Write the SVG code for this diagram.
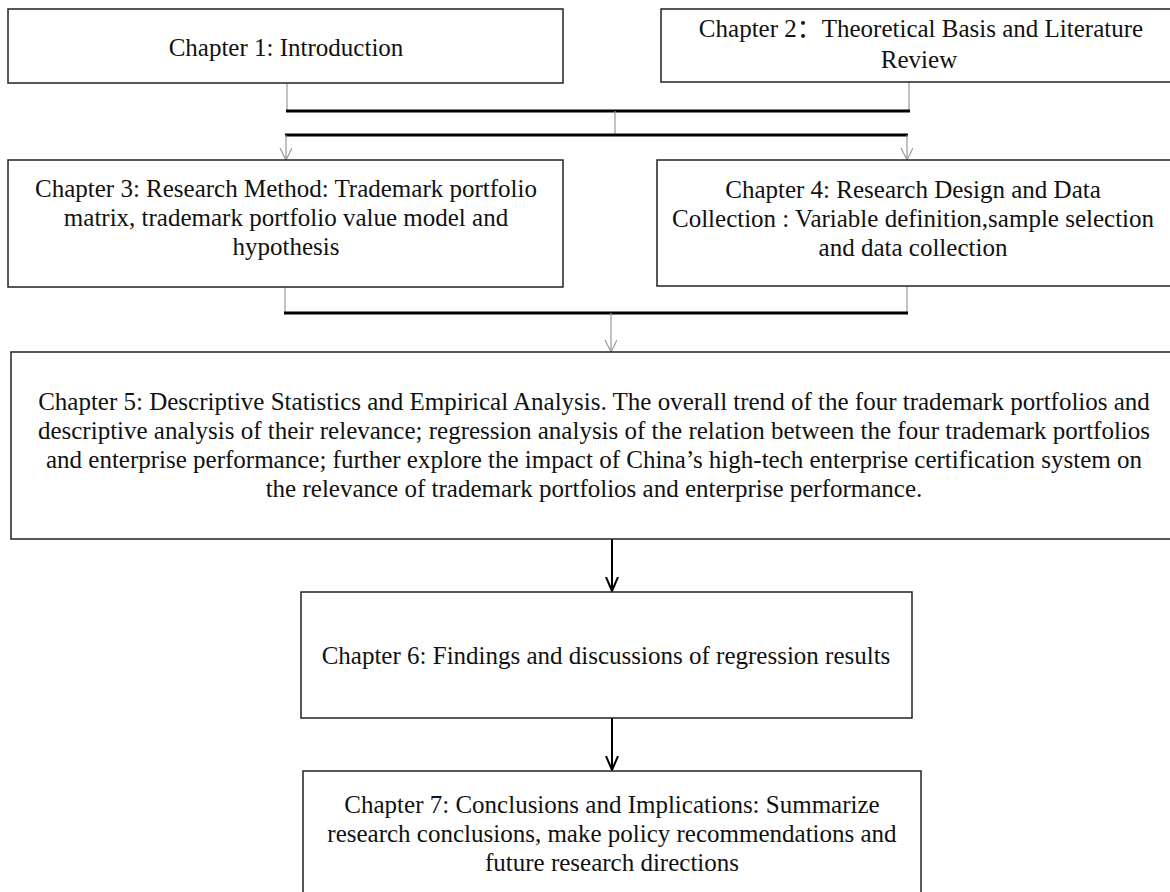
<svg xmlns="http://www.w3.org/2000/svg" width="1170" height="892" viewBox="0 0 1170 892">
<defs>
<style>
.box{fill:#fff;stroke:#222;stroke-width:1.5}
.t{font-family:"Liberation Serif","Times New Roman","Noto Sans CJK SC",serif;font-size:25px;fill:#111;text-anchor:middle}
.thin{stroke:#999;stroke-width:1.2;fill:none}
.thick{stroke:#000;stroke-width:3;fill:none}
.blk{stroke:#000;stroke-width:2;fill:none}
</style>
<marker id="ag" markerWidth="14" markerHeight="14" refX="12" refY="6" orient="auto" markerUnits="userSpaceOnUse"><path d="M0,0 L12,6 L0,12" fill="none" stroke="#999" stroke-width="1.2"/></marker>
<marker id="ab" markerWidth="16" markerHeight="16" refX="14" refY="7" orient="auto" markerUnits="userSpaceOnUse"><path d="M0,1 L14,7 L0,13" fill="none" stroke="#000" stroke-width="2"/></marker>
</defs>
<rect width="1170" height="892" fill="#fff"/>
<g id="connectors">
<path class="thin" d="M287,83 V111"/>
<path class="thin" d="M909,82 V111"/>
<path class="thick" d="M286,111 H910"/>
<path class="thin" d="M615,111 V135"/>
<path class="thick" d="M285,135 H908"/>
<path class="thin" d="M286,135 V160" marker-end="url(#ag)"/>
<path class="thin" d="M907,135 V160" marker-end="url(#ag)"/>
<path class="thin" d="M285,287 V313"/>
<path class="thin" d="M907,286 V313"/>
<path class="thick" d="M284,313 H908"/>
<path class="thin" d="M611,313 V352" marker-end="url(#ag)"/>
<path class="blk" d="M612,539 V591" marker-end="url(#ab)"/>
<path class="blk" d="M612,718 V770" marker-end="url(#ab)"/>
</g>
<g id="ch1"><rect class="box" x="8" y="9" width="555" height="74"/><text class="t" x="286" y="56">Chapter 1: Introduction</text></g>
<g id="ch2"><rect class="box" x="661" y="9" width="530" height="73"/><text class="t" x="921" y="37">Chapter 2：Theoretical Basis and Literature</text><text class="t" x="919" y="68">Review</text></g>
<g id="ch3"><rect class="box" x="8" y="160" width="555" height="127"/><text class="t" x="286" y="197">Chapter 3: Research Method: Trademark portfolio</text><text class="t" x="286" y="226">matrix, trademark portfolio value model and</text><text class="t" x="286" y="255">hypothesis</text></g>
<g id="ch4"><rect class="box" x="657" y="160" width="530" height="126"/><text class="t" x="913" y="198">Chapter 4: Research Design and Data</text><text class="t" x="913" y="227">Collection : Variable definition,sample selection</text><text class="t" x="913" y="256">and data collection</text></g>
<g id="ch5"><rect class="box" x="11" y="352" width="1175" height="187"/><text class="t" x="594" y="410">Chapter 5: Descriptive Statistics and Empirical Analysis. The overall trend of the four trademark portfolios and</text><text class="t" x="594" y="439">descriptive analysis of their relevance; regression analysis of the relation between the four trademark portfolios</text><text class="t" x="594" y="468">and enterprise performance; further explore the impact of China’s high-tech enterprise certification system on</text><text class="t" x="594" y="497">the relevance of trademark portfolios and enterprise performance.</text></g>
<g id="ch6"><rect class="box" x="301" y="592" width="611" height="126"/><text class="t" x="606" y="664">Chapter 6: Findings and discussions of regression results</text></g>
<g id="ch7"><rect class="box" x="303" y="771" width="618" height="140"/><text class="t" x="612" y="813">Chapter 7: Conclusions and Implications: Summarize</text><text class="t" x="612" y="842">research conclusions, make policy recommendations and</text><text class="t" x="612" y="871">future research directions</text></g>
</svg>
